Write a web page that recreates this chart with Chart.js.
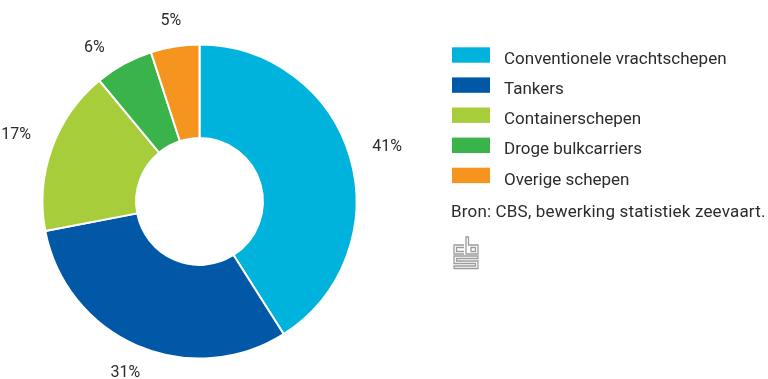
<!DOCTYPE html>
<html>
<head>
<meta charset="utf-8">
<script src="https://cdn.jsdelivr.net/npm/chart.js@4"></script>
<style>
  body { margin: 0; background: #fff; }
  #wrap { position: relative; width: 768px; height: 379px; }
</style>
</head>
<body>
<div id="wrap"><canvas id="shipChart" width="768" height="379"></canvas></div>
<script>
// Aandeel per scheepstype (%)
const categories = ['Conventionele vrachtschepen', 'Tankers', 'Containerschepen', 'Droge bulkcarriers', 'Overige schepen'];
const shares = [41, 31, 17, 6, 5];
const sliceColors = ['#00b3dc', '#0058a7', '#a8cd3a', '#39b34a', '#f5951f'];
const sourceNote = 'Bron: CBS, bewerking statistiek zeevaart.';

const FONT = 'Roboto, "Open Sans", sans-serif';
const TEXT_COLOR = '#2b2b2b';
const LABEL_GAP = 27; // min vertical distance between labels on one side

// Percentage labels outside each slice, legend, source line and logo
const annotations = {
    id: 'annotations',
    afterDraw(chart) {
        const ctx = chart.ctx;
        const arcs = chart.getDatasetMeta(0).data;
        ctx.save();

        // percent labels: place on the slice's middle angle, then spread
        // labels on the same side vertically so they don't collide
        ctx.font = '16px ' + FONT;
        ctx.fillStyle = TEXT_COLOR;
        ctx.textAlign = 'center';
        ctx.textBaseline = 'middle';
        const spots = arcs.map((arc, i) => {
            const p = arc.getProps(['x', 'y', 'startAngle', 'endAngle', 'outerRadius'], true);
            const mid = (p.startAngle + p.endAngle) / 2;
            const cx = Math.cos(mid), cy = Math.sin(mid);
            const text = shares[i] + '%';
            const w = ctx.measureText(text).width;
            const dist = p.outerRadius + 24 + (w / 2) * Math.abs(cx);
            return { text, ox: p.x, oy: p.y, dist, side: cx < 0 ? -1 : 1, y: p.y + cy * dist };
        });
        [-1, 1].forEach(side => {
            const group = spots.filter(s => s.side === side).sort((a, b) => a.y - b.y);
            for (let k = 1; k < group.length; k++) {
                if (group[k].y - group[k - 1].y < LABEL_GAP) group[k].y = group[k - 1].y + LABEL_GAP;
            }
        });
        spots.forEach(s => {
            const dy = s.y - s.oy;
            const dx = Math.sqrt(Math.max(s.dist * s.dist - dy * dy, 0));
            ctx.fillText(s.text, s.ox + s.side * dx, s.y);
        });

        // legend
        ctx.font = '17px ' + FONT;
        ctx.textAlign = 'left';
        ctx.textBaseline = 'alphabetic';
        categories.forEach((name, i) => {
            const top = 47.3 + i * 30.1;
            ctx.fillStyle = sliceColors[i];
            ctx.fillRect(452, top, 38, 15.4);
            ctx.fillStyle = TEXT_COLOR;
            ctx.fillText(name, 504, top + 16.8);
        });

        // source
        ctx.letterSpacing = '0.17px';
        ctx.fillText(sourceNote, 451, 217.3);

        // cbs logo
        ctx.strokeStyle = '#9c9c9c';
        ctx.lineWidth = 1.3;
        ctx.beginPath();
        // c
        ctx.moveTo(464, 245); ctx.lineTo(454, 245); ctx.lineTo(454, 254); ctx.lineTo(464, 254);
        ctx.moveTo(464, 247.5); ctx.lineTo(456.5, 247.5); ctx.lineTo(456.5, 251.5); ctx.lineTo(464, 251.5);
        // b
        ctx.moveTo(466, 237); ctx.lineTo(468.5, 237); ctx.lineTo(468.5, 245); ctx.lineTo(478, 245);
        ctx.lineTo(478, 254); ctx.lineTo(466, 254); ctx.closePath();
        ctx.rect(471, 247.5, 4.5, 4);
        // s
        ctx.moveTo(478, 256); ctx.lineTo(454, 256); ctx.lineTo(454, 263.5); ctx.lineTo(475.5, 263.5);
        ctx.lineTo(475.5, 266); ctx.lineTo(454, 266); ctx.lineTo(454, 268.5); ctx.lineTo(478, 268.5);
        ctx.lineTo(478, 261); ctx.lineTo(456.5, 261); ctx.lineTo(456.5, 258.5); ctx.lineTo(478, 258.5);
        ctx.closePath();
        ctx.stroke();

        ctx.restore();
    }
};

new Chart(document.getElementById('shipChart'), {
    type: 'doughnut',
    data: {
        labels: categories,
        datasets: [{
            data: shares,
            backgroundColor: sliceColors,
            borderColor: '#ffffff',
            borderWidth: 2
        }]
    },
    options: {
        responsive: false,
        animation: false,
        radius: 157,
        cutout: 64,
        layout: { padding: { left: 40, right: 409, top: 40, bottom: 16 } },
        plugins: {
            legend: { display: false },
            tooltip: { enabled: false }
        }
    },
    plugins: [annotations]
});
</script>
</body>
</html>
